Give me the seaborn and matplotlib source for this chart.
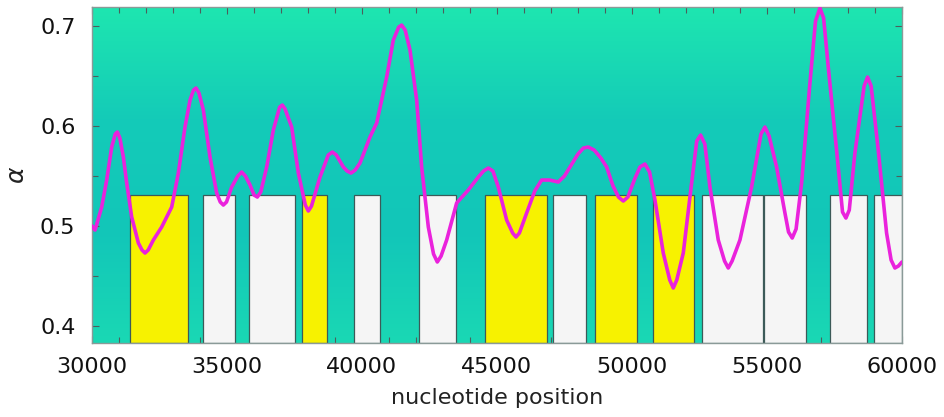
import numpy as np
import pandas as pd
import matplotlib
matplotlib.use("Agg")
import matplotlib.pyplot as plt
from matplotlib.colors import LinearSegmentedColormap
from matplotlib.ticker import MultipleLocator
import seaborn as sns

# region boxes (start, end, kind)
box_start = [31400, 34100, 35830, 37780, 39720, 42110, 44570, 47060, 48620, 50790,
             52580, 54890, 57330, 58980]
box_end = [33570, 35310, 37530, 38720, 40670, 43480, 46860, 48290, 50170, 52300,
           54850, 56440, 58690, 60000]
box_kind = ['y', 'w', 'w', 'y', 'w', 'w', 'y', 'w', 'y', 'y', 'w', 'w', 'w', 'w']
box_top = 0.531

# alpha profile
pos = [30000, 30111, 30358, 30543, 30728, 30860, 30938, 31030, 31160, 31284, 31469,
       31716, 31850, 31963, 32080, 32272, 32580, 32951, 33197, 33444, 33630, 33760,
       33852, 33960, 34123, 34370, 34617, 34750, 34864, 34980, 35173, 35400, 35543,
       35680, 35852, 36000, 36123, 36250, 36469, 36716, 36950, 37049, 37150, 37395,
       37642, 37900, 38012, 38130, 38444, 38750, 38901, 39050, 39309, 39450, 39593,
       39750, 39926, 40296, 40543, 40914, 41160, 41360, 41469, 41600, 41778, 42025,
       42210, 42457, 42650, 42790, 42930, 43136, 43506, 43937, 44309, 44500, 44679,
       44850, 45049, 45358, 45580, 45704, 45830, 46099, 46400, 46654, 46950, 47272,
       47500, 47704, 48000, 48200, 48382, 48600, 48850, 49062, 49300, 49500, 49679,
       49850, 50100, 50296, 50481, 50652, 50852, 51160, 51400, 51531, 51660, 51901,
       52148, 52400, 52543, 52700, 52889, 53197, 53430, 53568, 53710, 54000, 54432,
       54780, 54926, 55080, 55358, 55667, 55800, 55937, 56080, 56284, 56593, 56800,
       56963, 57100, 57272, 57580, 57800, 57926, 58050, 58259, 58600, 58728, 58860,
       59123, 59432, 59600, 59741, 59870, 60000]
alpha = [0.500, 0.496, 0.519, 0.546, 0.579, 0.592, 0.594, 0.588, 0.569, 0.543, 0.509,
         0.483, 0.476, 0.473, 0.476, 0.486, 0.499, 0.519, 0.553, 0.599, 0.626, 0.636,
         0.638, 0.633, 0.616, 0.569, 0.533, 0.524, 0.521, 0.524, 0.539, 0.550, 0.554,
         0.550, 0.541, 0.531, 0.529, 0.534, 0.559, 0.596, 0.619, 0.621, 0.617, 0.599,
         0.553, 0.521, 0.515, 0.520, 0.549, 0.571, 0.574, 0.571, 0.559, 0.555, 0.553,
         0.556, 0.563, 0.589, 0.603, 0.649, 0.686, 0.699, 0.701, 0.696, 0.676, 0.626,
         0.559, 0.499, 0.472, 0.464, 0.470, 0.486, 0.523, 0.536, 0.549, 0.555, 0.558,
         0.555, 0.539, 0.506, 0.493, 0.489, 0.493, 0.513, 0.535, 0.546, 0.546, 0.544,
         0.550, 0.559, 0.572, 0.578, 0.579, 0.576, 0.568, 0.559, 0.540, 0.529, 0.525,
         0.529, 0.547, 0.559, 0.562, 0.554, 0.526, 0.473, 0.446, 0.438, 0.446, 0.473,
         0.529, 0.585, 0.591, 0.582, 0.539, 0.486, 0.465, 0.458, 0.465, 0.486, 0.539,
         0.592, 0.599, 0.590, 0.559, 0.513, 0.494, 0.488, 0.497, 0.543, 0.643, 0.705,
         0.718, 0.708, 0.659, 0.576, 0.514, 0.508, 0.516, 0.573, 0.640, 0.649, 0.640,
         0.576, 0.493, 0.466, 0.458, 0.460, 0.464]

df = pd.DataFrame({'position': pos, 'alpha': alpha})

sns.set_style('ticks')
plt.rcParams['font.family'] = ['DejaVu Sans']

fig = plt.figure(figsize=(9.45, 4.17), dpi=100)
ax = fig.add_axes([0.0974, 0.1775, 0.857, 0.8055])

xmin, xmax = 30000, 60000
ymin, ymax = 0.383, 0.719

# background gradient
cmap = LinearSegmentedColormap.from_list('bg', ['#1ad8b4', '#12c6b9', '#14cbb8', '#1ee6b0'])
grad = np.linspace(0, 1, 256).reshape(-1, 1)
ax.imshow(grad, cmap=cmap, aspect='auto', extent=[xmin, xmax, ymin, ymax],
          origin='lower', zorder=0)

colors = {'y': '#f7f200', 'w': '#f5f5f5'}
for s, e, k in zip(box_start, box_end, box_kind):
    ax.bar(s, box_top - ymin, width=e - s, bottom=ymin, align='edge',
           color=colors[k], edgecolor='#3c5a58', linewidth=0.9, zorder=1)

sns.lineplot(data=df, x='position', y='alpha', ax=ax, color='#ea22dc',
             linewidth=2.6, zorder=3, solid_joinstyle='round', solid_capstyle='round')

ax.set_xlim(xmin, xmax)
ax.set_ylim(ymin, ymax)
ax.xaxis.set_major_locator(MultipleLocator(5000))
ax.xaxis.set_minor_locator(MultipleLocator(1000))
ax.yaxis.set_major_locator(MultipleLocator(0.1))
ax.yaxis.set_minor_locator(MultipleLocator(0.05))
ax.tick_params(which='both', direction='in', top=True, right=True, color='#4e5e5c',
               labelsize=16, labelcolor='#111111')
ax.tick_params(which='major', length=5, width=0.8)
ax.tick_params(which='minor', length=4, width=0.8)
ax.tick_params(axis='x', pad=10)
ax.tick_params(axis='y', pad=12)
for sp in ax.spines.values():
    sp.set_color('#8a9a98')
    sp.set_linewidth(1.0)

ax.set_xlabel('nucleotide position', fontsize=16, color='#222222', labelpad=8)
ax.set_ylabel(r'$\alpha$', fontsize=18, color='#222222', labelpad=8)

fig.savefig('out.png', dpi=100)
